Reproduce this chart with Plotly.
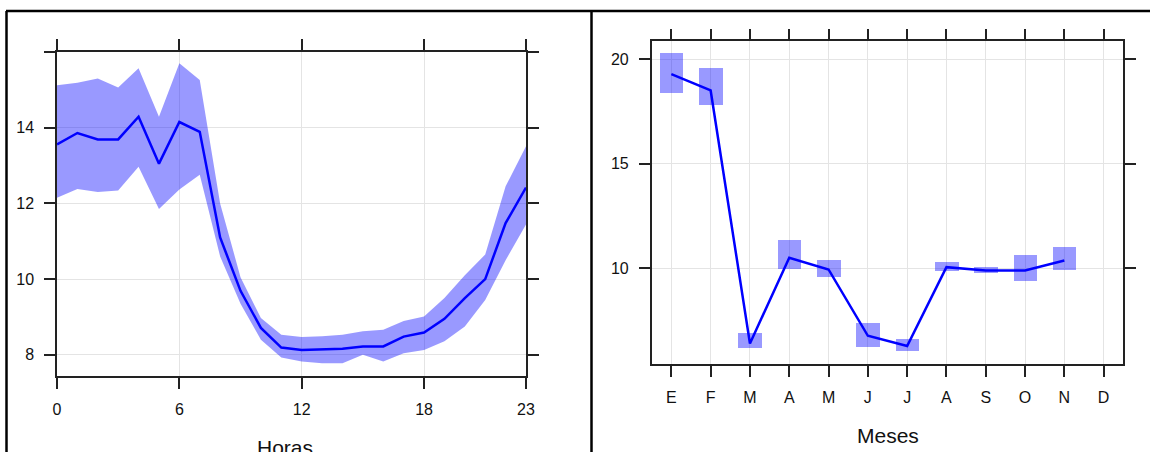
import plotly.graph_objects as go

# ---- Left panel: hourly profile ----
horas = list(range(24))
media_hora = [13.56, 13.86, 13.69, 13.69, 14.29, 13.05, 14.15, 13.89, 11.10, 9.69,
              8.71, 8.19, 8.13, 8.15, 8.16, 8.22, 8.22, 8.48, 8.59, 8.95,
              9.50, 10.00, 11.48, 12.42]
sup_hora = [15.12, 15.19, 15.30, 15.06, 15.57, 14.29, 15.70, 15.26, 12.00, 10.05,
            8.97, 8.53, 8.47, 8.49, 8.53, 8.62, 8.66, 8.89, 9.01, 9.50,
            10.10, 10.65, 12.45, 13.51]
inf_hora = [12.15, 12.38, 12.30, 12.34, 12.97, 11.85, 12.37, 12.76, 10.60, 9.35,
            8.40, 7.93, 7.82, 7.78, 7.78, 8.00, 7.82, 8.04, 8.13, 8.36,
            8.75, 9.45, 10.50, 11.44]
x_ticks_h = [0, 6, 12, 18, 23]
y_ticks_h = [8, 10, 12, 14, 16]
y_text_h = ["8", "10", "12", "14", ""]

# ---- Right panel: monthly profile ----
meses_num = [1, 2, 3, 4, 5, 6, 7, 8, 9, 10, 11]
media_mes = [19.29, 18.51, 6.41, 10.51, 9.95, 6.78, 6.29, 10.06, 9.90, 9.90, 10.38]
sup_mes = [20.30, 19.56, 6.89, 11.33, 10.41, 7.40, 6.60, 10.27, 10.06, 10.62, 11.02]
inf_mes = [18.38, 17.80, 6.17, 9.95, 9.59, 6.22, 6.05, 9.86, 9.78, 9.38, 9.90]
meses_ticks = list(range(1, 13))
meses_text = ["E", "F", "M", "A", "M", "J", "J", "A", "S", "O", "N", "D"]
y_ticks_m = [10, 15, 20]

W, H = 1150, 452
BLUE = "#0000FF"
FILL = "rgba(0,0,255,0.4)"
FONT = "Liberation Sans, Arial, sans-serif"

fig = go.Figure()

# left band + line
fig.add_trace(go.Scatter(x=horas, y=inf_hora, mode="lines", line=dict(width=0),
                         showlegend=False, hoverinfo="skip", xaxis="x", yaxis="y"))
fig.add_trace(go.Scatter(x=horas, y=sup_hora, mode="lines", line=dict(width=0),
                         fill="tonexty", fillcolor=FILL, showlegend=False,
                         hoverinfo="skip", xaxis="x", yaxis="y"))
fig.add_trace(go.Scatter(x=horas, y=media_hora, mode="lines",
                         line=dict(color=BLUE, width=2.5), showlegend=False,
                         xaxis="x", yaxis="y"))

# right boxes + line
fig.add_trace(go.Bar(x=meses_num, y=[s - i for s, i in zip(sup_mes, inf_mes)],
                     base=inf_mes, width=0.6, marker=dict(color=FILL, line=dict(width=0)),
                     showlegend=False, xaxis="x2", yaxis="y2"))
fig.add_trace(go.Scatter(x=meses_num, y=media_mes, mode="lines",
                         line=dict(color=BLUE, width=2.5), showlegend=False,
                         xaxis="x2", yaxis="y2"))

axis_common = dict(showline=True, linecolor="#222", linewidth=1.5, mirror="ticks",
                   ticks="outside", ticklen=11, tickcolor="#222", tickwidth=1.5,
                   showgrid=True, gridcolor="#e4e4e4", gridwidth=1, zeroline=False,
                   automargin=False,
                   tickfont=dict(family=FONT, size=16, color="#111"),
                   ticklabelstandoff=7)

fig.update_layout(
    width=W, height=H,
    margin=dict(l=0, r=0, t=0, b=0, pad=0),
    paper_bgcolor="white", plot_bgcolor="white",
    font=dict(family=FONT),
    bargap=0,
    xaxis=dict(domain=[57 / W, 526 / W], range=[0, 23], tickvals=x_ticks_h,
               anchor="y", **axis_common),
    yaxis=dict(domain=[(H - 376) / H, (H - 52) / H], range=[7.44, 16.0],
               tickvals=y_ticks_h, ticktext=y_text_h, anchor="x", **axis_common),
    xaxis2=dict(domain=[651.7 / W, 1123.3 / W], range=[0.5, 12.5],
                tickvals=meses_ticks, ticktext=meses_text, anchor="y2", **axis_common),
    yaxis2=dict(domain=[(H - 364) / H, (H - 41.3) / H], range=[5.43, 20.86],
                tickvals=y_ticks_m, anchor="x2", **axis_common),
)

# axis titles
fig.add_annotation(text="Horas", x=285 / W, y=(H - 447) / H, xref="paper", yref="paper",
                   showarrow=False, xanchor="center", yanchor="middle",
                   font=dict(family=FONT, size=21, color="#111"))
fig.add_annotation(text="Meses", x=887.5 / W, y=(H - 435) / H, xref="paper", yref="paper",
                   showarrow=False, xanchor="center", yanchor="middle",
                   font=dict(family=FONT, size=21, color="#111"))

# outer panel frames
frame = dict(color="black", width=2.5)
fig.add_shape(type="line", xref="paper", yref="paper", x0=6 / W, x1=1.0,
              y0=(H - 11) / H, y1=(H - 11) / H, line=frame)
fig.add_shape(type="line", xref="paper", yref="paper", x0=6.5 / W, x1=6.5 / W,
              y0=-0.01, y1=(H - 11) / H, line=frame)
fig.add_shape(type="line", xref="paper", yref="paper", x0=591.5 / W, x1=591.5 / W,
              y0=-0.01, y1=(H - 11) / H, line=frame)

fig.write_html("out.html", config={"displayModeBar": False},
               post_script="document.body.style.margin='0';document.body.style.overflow='hidden';")
